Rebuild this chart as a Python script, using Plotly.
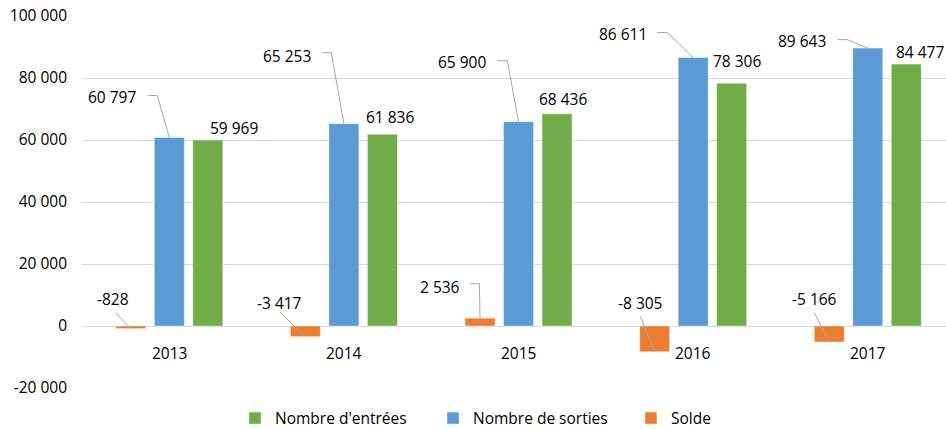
import plotly.graph_objects as go

# ---------------- data ----------------
years = ["2013", "2014", "2015", "2016", "2017"]
entrees = [59969, 61836, 68436, 78306, 84477]
sorties = [60797, 65253, 65900, 86611, 89643]
solde = [-828, -3417, 2536, -8305, -5166]
tick_vals = [-20000, 0, 20000, 40000, 60000, 80000, 100000]
tick_text = ["-20 000", "0", "20 000", "40 000", "60 000", "80 000", "100 000"]
series_names = ["Solde", "Nombre de sorties", "Nombre d'entrées"]

# ---------------- style / layout ----------------
W, H = 946, 429
M_L, M_R, M_T, M_B = 82, 0, 16, 41
X_RANGE = [-0.5, 4.448]
Y_RANGE = [-20000, 100000]
PLOT_W = W - M_L - M_R
PLOT_H = H - M_T - M_B
PXX = PLOT_W / (X_RANGE[1] - X_RANGE[0])   # px per category unit
PXY = PLOT_H / (Y_RANGE[1] - Y_RANGE[0])   # px per value unit

C_ORANGE = "#ED7D31"
C_BLUE = "#5B9BD5"
C_GREEN = "#70AD47"
GRID = "#D9D9D9"
LEADER = "#A6A6A6"
FONT = "Open Sans"
FS = 15.5
TXT = "#000000"

SLOT_PX = 38.5
BAR_PX = 30.0
slot = SLOT_PX / PXX
bargap = 1 - 3 * slot
bargroupgap = 1 - (BAR_PX / PXX) / slot

# label offsets in pixels relative to bar end (dx right, dy down)
blue_text = [(-57.5, -41), (-56.6, -68), (-56.7, -60), (-70.3, -24), (-65.9, -7.5)]
blue_lead = [[(-21, -42), (-12, -42)], [(-21.6, -71), (-12.6, -71)],
             [(-21.2, -61), (-11.2, -61)], [(-35.8, -25), (-25.8, -25)],
             [(-30.4, -8.5), (-20.4, -8.5)]]
orange_text = [(-18, -30), (-25.6, -34), (-39.7, -31.5), (-14.8, -49), (-14.4, -43.3)]
orange_lead = [[(-15.5, -16)], [(-25.1, -24)], [(-9.7, -34.4), (-0.7, -34.4)],
               [(-14.3, -35)], [(-14.9, -29.3)]]
green_text = [(26.5, -12.4), (7.9, -17.6), (5.8, -15.1), (5.7, -22.6), (14, -12.4)]

idx = list(range(len(years)))


def fmt(v):
    return f"{v:,}".replace(",", " ")


fig = go.Figure()
for name, vals, col in [(series_names[0], solde, C_ORANGE),
                        (series_names[1], sorties, C_BLUE),
                        (series_names[2], entrees, C_GREEN)]:
    fig.add_trace(go.Bar(x=idx, y=vals, name=name,
                         marker=dict(color=col, line=dict(width=0.6, color="rgba(255,255,255,0.7)")),
                         hoverinfo="skip"))

annotations = []
shapes = []


def add_labels(vals, off_units, texts, leads):
    for i, v in enumerate(vals):
        bx = idx[i] + off_units
        tx, ty = texts[i]
        annotations.append(dict(x=bx, y=v, xref="x", yref="y", text=fmt(v), showarrow=False,
                                xanchor="center", yanchor="middle", xshift=tx, yshift=-ty,
                                font=dict(family=FONT, size=FS, color=TXT)))
        if leads is not None:
            pts = leads[i] + [(0, 0)]
            path = ""
            for k, (dx, dy) in enumerate(pts):
                px = bx + dx / PXX
                py = v - dy / PXY
                path += ("M" if k == 0 else " L") + f"{px},{py}"
            shapes.append(dict(type="path", path=path, xref="x", yref="y",
                               line=dict(color=LEADER, width=1)))


add_labels(sorties, 0.0, blue_text, blue_lead)
add_labels(solde, -slot, orange_text, orange_lead)
add_labels(entrees, slot, green_text, None)

for i, y in enumerate(years):
    annotations.append(dict(x=idx[i], y=0, xref="x", yref="y", text=y, showarrow=False,
                            xanchor="center", yanchor="middle", yshift=-27,
                            font=dict(family=FONT, size=FS, color=TXT)))

fig.update_layout(
    width=W, height=H,
    margin=dict(l=M_L, r=M_R, t=M_T, b=M_B, pad=0, autoexpand=False),
    paper_bgcolor="white", plot_bgcolor="white",
    barmode="group", bargap=bargap, bargroupgap=bargroupgap,
    font=dict(family=FONT, size=FS, color=TXT),
    xaxis=dict(range=X_RANGE, showticklabels=False, showgrid=False, zeroline=False,
               showline=False, ticks="", fixedrange=True, automargin=False),
    yaxis=dict(range=Y_RANGE, tickvals=tick_vals, ticktext=tick_text, showgrid=True,
               gridcolor=GRID, gridwidth=1, zeroline=True, zerolinecolor=GRID, zerolinewidth=1,
               showline=False, ticks="", ticklabelstandoff=14, automargin=False,
               fixedrange=True, tickfont=dict(family=FONT, size=FS, color=TXT)),
    legend=dict(orientation="h", x=(235 - M_L) / PLOT_W, xanchor="left",
                y=-0.082, yanchor="middle", entrywidth=153,
                traceorder="reversed", font=dict(family=FONT, size=FS, color=TXT),
                bgcolor="rgba(0,0,0,0)"),
    annotations=annotations,
    shapes=shapes,
)

fig.write_html("out.html", config={"displayModeBar": False},
               post_script="document.body.style.margin='0';document.body.style.overflow='hidden';")
